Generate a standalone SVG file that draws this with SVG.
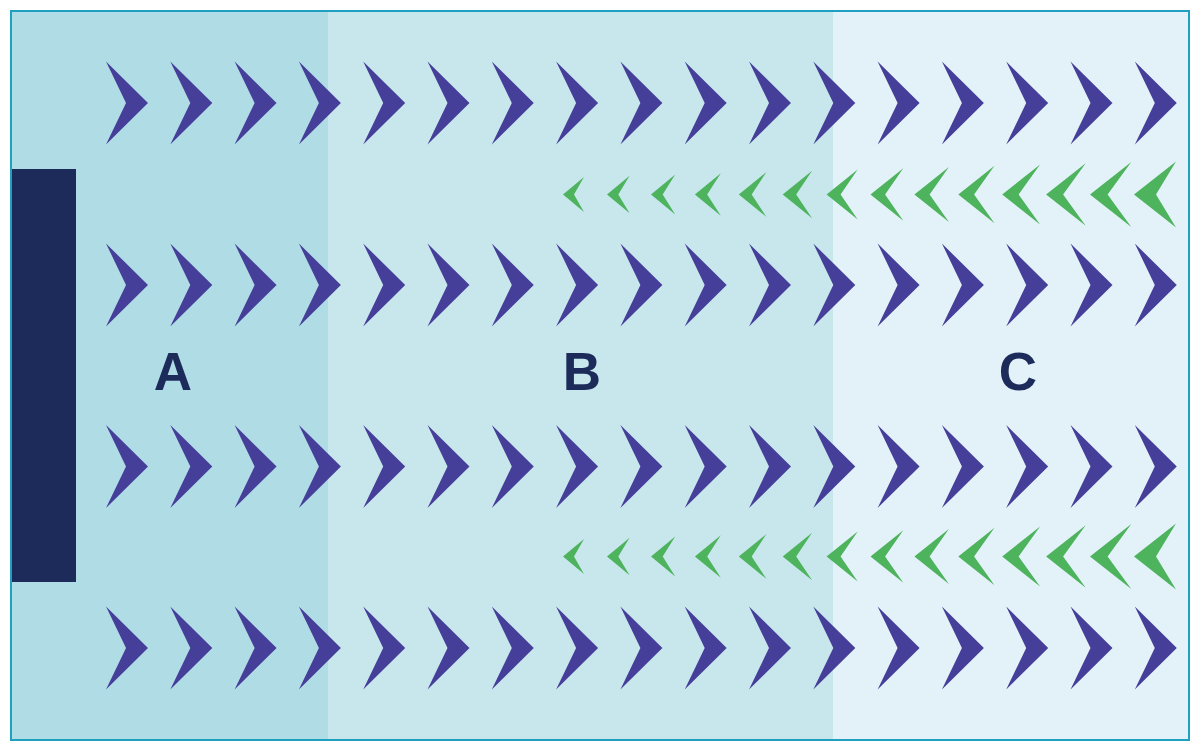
<svg xmlns="http://www.w3.org/2000/svg" xmlns:xlink="http://www.w3.org/1999/xlink" width="1200" height="751" viewBox="0 0 1200 751">
<style>
.blue{fill:#463f9a}
.green{fill:#4db35d}
.lbl{font-family:"Liberation Sans",Arial,sans-serif;font-weight:bold;font-size:53px;fill:#1c2b5a;text-anchor:middle}
</style>
<defs>
<path id="bc" class="blue" d="M0,-41.5 L42,0 L0,41.5 L20,0 Z"/>
<g id="brow">
<use xlink:href="#bc" x="106"/><use xlink:href="#bc" x="170.3"/><use xlink:href="#bc" x="234.6"/><use xlink:href="#bc" x="298.9"/><use xlink:href="#bc" x="363.2"/><use xlink:href="#bc" x="427.5"/><use xlink:href="#bc" x="491.8"/><use xlink:href="#bc" x="556.1"/><use xlink:href="#bc" x="620.4"/><use xlink:href="#bc" x="684.7"/><use xlink:href="#bc" x="749"/><use xlink:href="#bc" x="813.3"/><use xlink:href="#bc" x="877.6"/><use xlink:href="#bc" x="941.9"/><use xlink:href="#bc" x="1006.2"/><use xlink:href="#bc" x="1070.5"/><use xlink:href="#bc" x="1134.8"/>
</g>
<g id="grow">
<path class="green" d="M563,0 L584,-17.5 L574,0 L584,17.5 Z"/>
<path class="green" d="M607,0 L629.6,-18.7 L618.3,0 L629.6,18.7 Z"/>
<path class="green" d="M651,0 L675.2,-19.9 L662.7,0 L675.2,19.9 Z"/>
<path class="green" d="M694.9,0 L720.8,-21.2 L707.2,0 L720.8,21.2 Z"/>
<path class="green" d="M738.8,0 L766.5,-22.5 L751.7,0 L766.5,22.5 Z"/>
<path class="green" d="M782.7,0 L812.1,-23.7 L796.2,0 L812.1,23.7 Z"/>
<path class="green" d="M826.6,0 L857.7,-25 L840.6,0 L857.7,25 Z"/>
<path class="green" d="M870.5,0 L903.3,-26.2 L885.1,0 L903.3,26.2 Z"/>
<path class="green" d="M914.4,0 L948.9,-27.5 L929.6,0 L948.9,27.5 Z"/>
<path class="green" d="M958.3,0 L994.5,-28.7 L974.1,0 L994.5,28.7 Z"/>
<path class="green" d="M1002.2,0 L1040.1,-30 L1018.6,0 L1040.1,30 Z"/>
<path class="green" d="M1046.1,0 L1085.7,-31.2 L1063.1,0 L1085.7,31.2 Z"/>
<path class="green" d="M1090,0 L1131.3,-32.4 L1107.6,0 L1131.3,32.4 Z"/>
<path class="green" d="M1134,0 L1176,-33 L1156,0 L1176,33 Z"/>
</g>
</defs>
<g id="zones">
<rect x="11" y="11" width="317" height="729" fill="#b0dce6"/>
<rect x="328" y="11" width="505" height="729" fill="#c8e7ed"/>
<rect x="833" y="11" width="356" height="729" fill="#e3f2f8"/>
</g>
<g id="bar"><rect x="11" y="169" width="65" height="413" fill="#1c2b5a"/></g>
<g id="flows">
<use xlink:href="#brow" y="103"/>
<use xlink:href="#brow" y="285"/>
<use xlink:href="#brow" y="466.5"/>
<use xlink:href="#brow" y="648"/>
<use xlink:href="#grow" y="194.5"/>
<use xlink:href="#grow" y="556.5"/>
</g>
<g id="labels">
<text class="lbl" x="173" y="390">A</text>
<text class="lbl" x="582" y="390">B</text>
<text class="lbl" x="1018" y="390">C</text>
</g>
<rect x="11" y="11" width="1178" height="729" fill="none" stroke="#1fa0c0" stroke-width="2"/>
</svg>
